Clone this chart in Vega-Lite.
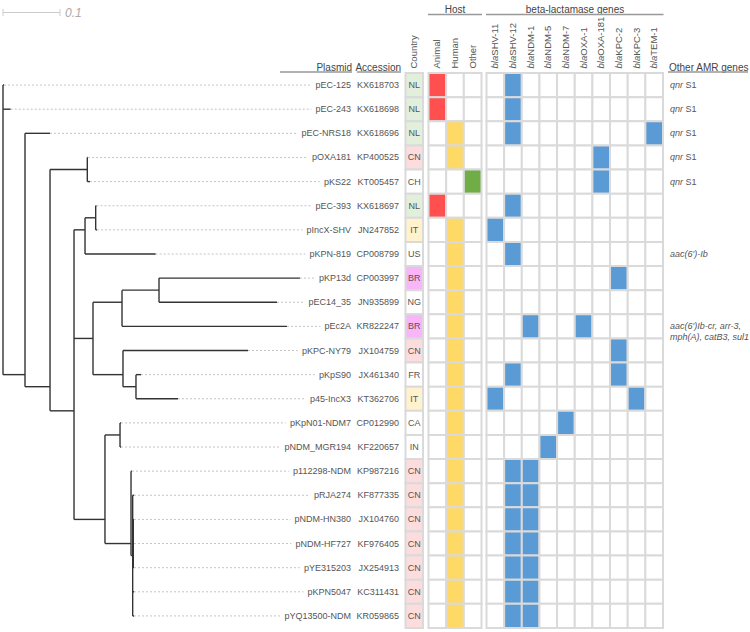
{
"$schema":"https://vega.github.io/schema/vega-lite/v6.json",
"width":750,"height":632,"padding":0,"autosize":{"type":"none"},
"background":"#ffffff",
"config":{"view":{"stroke":null},"font":"Liberation Sans","axis":{"disable":true},"legend":{"disable":true}},
"datasets":{
"plasmids":[
{"row":0,"plasmid":"pEC-125","acc":"KX618703","country":"NL","base":0,"tip":0.0018,"Animal":1,"SHV-12":1,"amr_i":"qnr","amr_p":"S1"},
{"row":1,"plasmid":"pEC-243","acc":"KX618698","country":"NL","base":0,"tip":0.0135,"Animal":1,"SHV-12":1,"amr_i":"qnr","amr_p":"S1"},
{"row":2,"plasmid":"pEC-NRS18","acc":"KX618696","country":"NL","base":0.0386,"tip":0.0825,"Human":1,"SHV-12":1,"TEM-1":1,"amr_i":"qnr","amr_p":"S1"},
{"row":3,"plasmid":"pOXA181","acc":"KP400525","country":"CN","base":0.1479,"tip":0.149,"Human":1,"OXA-181":1,"amr_i":"qnr","amr_p":"S1"},
{"row":4,"plasmid":"pKS22","acc":"KT005457","country":"CH","base":0.1479,"tip":0.1526,"Other":1,"OXA-181":1,"amr_i":"qnr","amr_p":"S1"},
{"row":5,"plasmid":"pEC-393","acc":"KX618697","country":"NL","base":0.1626,"tip":0.164,"Animal":1,"SHV-12":1},
{"row":6,"plasmid":"pIncX-SHV","acc":"JN247852","country":"IT","base":0.1626,"tip":0.165,"Human":1,"SHV-11":1},
{"row":7,"plasmid":"pKPN-819","acc":"CP008799","country":"US","base":0.1439,"tip":0.2679,"Human":1,"SHV-12":1,"amr_i":"aac(6')-Ib"},
{"row":8,"plasmid":"pKP13d","acc":"CP003997","country":"BR","base":0.2737,"tip":0.521,"Human":1,"KPC-2":1},
{"row":9,"plasmid":"pEC14_35","acc":"JN935899","country":"NG","base":0.2737,"tip":0.4807,"Human":1},
{"row":10,"plasmid":"pEc2A","acc":"KR822247","country":"BR","base":0.2088,"tip":0.4982,"Human":1,"NDM-1":1,"OXA-1":1,"amr_i":"aac(6')Ib-cr, arr-3,\nmph(A), catB3, sul1"},
{"row":11,"plasmid":"pKPC-NY79","acc":"JX104759","country":"CN","base":0.2105,"tip":0.4298,"Human":1,"KPC-2":1},
{"row":12,"plasmid":"pKpS90","acc":"JX461340","country":"FR","base":0.2333,"tip":0.2421,"Human":1,"SHV-12":1,"KPC-2":1},
{"row":13,"plasmid":"p45-IncX3","acc":"KT362706","country":"IT","base":0.2333,"tip":0.307,"Human":1,"SHV-11":1,"KPC-3":1},
{"row":14,"plasmid":"pKpN01-NDM7","acc":"CP012990","country":"CA","base":0.2053,"tip":0.207,"Human":1,"NDM-7":1},
{"row":15,"plasmid":"pNDM_MGR194","acc":"KF220657","country":"IN","base":0.2053,"tip":0.207,"Human":1,"NDM-5":1},
{"row":16,"plasmid":"p112298-NDM","acc":"KP987216","country":"CN","base":0.2246,"tip":0.2263,"Human":1,"SHV-12":1,"NDM-1":1},
{"row":17,"plasmid":"pRJA274","acc":"KF877335","country":"CN","base":0.2275,"tip":0.2298,"Human":1,"SHV-12":1,"NDM-1":1},
{"row":18,"plasmid":"pNDM-HN380","acc":"JX104760","country":"CN","base":0.2286,"tip":0.2298,"Human":1,"SHV-12":1,"NDM-1":1},
{"row":19,"plasmid":"pNDM-HF727","acc":"KF976405","country":"CN","base":0.2286,"tip":0.2298,"Human":1,"SHV-12":1,"NDM-1":1},
{"row":20,"plasmid":"pYE315203","acc":"JX254913","country":"CN","base":0.2286,"tip":0.2298,"Human":1,"SHV-12":1,"NDM-1":1},
{"row":21,"plasmid":"pKPN5047","acc":"KC311431","country":"CN","base":0.2275,"tip":0.2298,"Human":1,"SHV-12":1,"NDM-1":1},
{"row":22,"plasmid":"pYQ13500-NDM","acc":"KR059865","country":"CN","base":0.2275,"tip":0.2298,"Human":1,"SHV-12":1,"NDM-1":1}
],
"tree":[
{"x":0,"x2":0,"y":0,"y2":12},
{"x":0.0386,"x2":0.0386,"y":2,"y2":12.5},
{"x":0.0825,"x2":0.0825,"y":3.5,"y2":13.5},
{"x":0.1479,"x2":0.1479,"y":3,"y2":4},
{"x":0.1246,"x2":0.1246,"y":6,"y2":18},
{"x":0.1439,"x2":0.1439,"y":5.5,"y2":7},
{"x":0.1626,"x2":0.1626,"y":5,"y2":6},
{"x":0.1579,"x2":0.1579,"y":9,"y2":12},
{"x":0.2088,"x2":0.2088,"y":8.5,"y2":10},
{"x":0.2737,"x2":0.2737,"y":8,"y2":9},
{"x":0.2105,"x2":0.2105,"y":11,"y2":12.5},
{"x":0.2333,"x2":0.2333,"y":12,"y2":13},
{"x":0.1789,"x2":0.1789,"y":14.5,"y2":19},
{"x":0.2053,"x2":0.2053,"y":14,"y2":15},
{"x":0.2246,"x2":0.2246,"y":16,"y2":19.5},
{"x":0.2275,"x2":0.2275,"y":17,"y2":22},
{"x":0.2286,"x2":0.2286,"y":18,"y2":20},
{"x":0,"x2":0.0386,"y":12,"y2":12},
{"x":0.0386,"x2":0.0825,"y":12.5,"y2":12.5},
{"x":0.0825,"x2":0.1479,"y":3.5,"y2":3.5},
{"x":0.0825,"x2":0.1246,"y":13.5,"y2":13.5},
{"x":0.1246,"x2":0.1439,"y":6,"y2":6},
{"x":0.1439,"x2":0.1626,"y":5.5,"y2":5.5},
{"x":0.1246,"x2":0.1579,"y":10.5,"y2":10.5},
{"x":0.1579,"x2":0.2088,"y":9,"y2":9},
{"x":0.2088,"x2":0.2737,"y":8.5,"y2":8.5},
{"x":0.1579,"x2":0.2105,"y":12,"y2":12},
{"x":0.2105,"x2":0.2333,"y":12.5,"y2":12.5},
{"x":0.1246,"x2":0.1789,"y":18,"y2":18},
{"x":0.1789,"x2":0.2053,"y":14.5,"y2":14.5},
{"x":0.1789,"x2":0.2246,"y":19,"y2":19},
{"x":0.2246,"x2":0.2275,"y":19.5,"y2":19.5},
{"x":0.2275,"x2":0.2286,"y":19,"y2":19}
],
"genes":[{"g":"SHV-11"},{"g":"SHV-12"},{"g":"NDM-1"},{"g":"NDM-5"},{"g":"NDM-7"},{"g":"OXA-1"},{"g":"OXA-181"},{"g":"KPC-2"},{"g":"KPC-3"},{"g":"TEM-1"}],
"hosts":[{"h":"Animal"},{"h":"Human"},{"h":"Other"}]
},
"resolve":{"scale":{"x":"independent","y":"independent","fill":"independent"}},
"layer":[
{
"layer":[
{"data":{"name":"tree"},"mark":{"type":"rule","stroke":"#333333","strokeWidth":1.4},
 "encoding":{"x":{"field":"x","type":"quantitative","axis":null,"scale":{"domain":[0,1],"range":[3,573],"nice":false,"zero":false}},"x2":{"field":"x2"},
  "y":{"field":"y","type":"quantitative","axis":null,"scale":{"domain":[-0.5,22.5],"range":[73,628],"nice":false,"zero":false}},"y2":{"field":"y2"}}},
{"data":{"name":"plasmids"},"mark":{"type":"rule","stroke":"#333333","strokeWidth":1.4},
 "encoding":{"x":{"field":"base","type":"quantitative","axis":null},"x2":{"field":"tip"},"y":{"field":"row","type":"quantitative","axis":null}}},
{"data":{"name":"plasmids"},"mark":{"type":"rule","stroke":"#c4c4c4","strokeWidth":1,"strokeDash":[2,2]},
 "encoding":{"x":{"field":"tip","type":"quantitative","axis":null},"x2":{"datum":0.6105},"y":{"field":"row","type":"quantitative","axis":null}}},
{"data":{"name":"plasmids"},"mark":{"type":"text","align":"right","baseline":"middle","fontSize":9,"fill":"#ffffff","stroke":"#ffffff","strokeWidth":9},
 "encoding":{"x":{"datum":0.6105},"y":{"field":"row","type":"quantitative","axis":null},"text":{"field":"plasmid"}}},
{"data":{"name":"plasmids"},"mark":{"type":"text","align":"right","baseline":"middle","fontSize":9,"fill":"#555555"},
 "encoding":{"x":{"datum":0.6105},"y":{"field":"row","type":"quantitative","axis":null},"text":{"field":"plasmid"}}},
{"data":{"name":"plasmids"},"mark":{"type":"text","align":"right","baseline":"middle","fontSize":9,"fill":"#555555"},
 "encoding":{"x":{"value":399},"y":{"field":"row","type":"quantitative","axis":null},"text":{"field":"acc"}}},
{"data":{"name":"plasmids"},"transform":[{"filter":"datum.amr_i"}],"mark":{"type":"text","align":"left","baseline":"middle","fontSize":9,"fontStyle":"italic","fill":"#555555","lineBreak":"\n","lineHeight":11},
 "encoding":{"x":{"value":670},"y":{"field":"row","type":"quantitative","axis":null},"text":{"field":"amr_i"}}},
{"data":{"name":"plasmids"},"transform":[{"filter":"datum.amr_p"}],"mark":{"type":"text","align":"left","baseline":"middle","fontSize":9,"fill":"#555555","dx":15.5},
 "encoding":{"x":{"value":670},"y":{"field":"row","type":"quantitative","axis":null},"text":{"field":"amr_p"}}},
{"data":{"values":[{}]},"mark":{"type":"rule","stroke":"#cccccc","strokeWidth":1},
 "encoding":{"x":{"datum":0},"x2":{"datum":0.1},"y":{"value":12.5}}},
{"data":{"values":[{}]},"mark":{"type":"rule","stroke":"#cccccc","strokeWidth":1},
 "encoding":{"x":{"datum":0},"y":{"value":9},"y2":{"value":16}}},
{"data":{"values":[{}]},"mark":{"type":"rule","stroke":"#cccccc","strokeWidth":1},
 "encoding":{"x":{"datum":0.1},"y":{"value":9},"y2":{"value":16}}},
{"data":{"values":[{}]},"mark":{"type":"text","align":"left","baseline":"middle","fontSize":12,"fontStyle":"italic","fill":"#aaaaaa","dx":5},
 "encoding":{"x":{"datum":0.1},"y":{"value":13},"text":{"value":"0.1"}}}
]
},
{
"layer":[
{"data":{"name":"plasmids"},"mark":{"type":"rect","stroke":"#dadada","strokeWidth":2},
 "encoding":{"x":{"datum":"Country","type":"nominal","axis":null,"scale":{"domain":["Country"],"range":[405.5,423],"paddingInner":0,"paddingOuter":0}},
  "y":{"field":"plasmid","type":"nominal","axis":null,"sort":{"field":"row","op":"min"},"scale":{"range":[73,628],"paddingInner":0,"paddingOuter":0}},
  "fill":{"field":"country","type":"nominal","legend":null,"scale":{"domain":["NL","CN","IT","BR","CH","US","NG","FR","CA","IN"],"range":["#e2efda","#fcdcdc","#fff2cc","#f9b5f9","#ffffff","#ffffff","#ffffff","#ffffff","#ffffff","#ffffff"]}}}},
{"data":{"name":"plasmids"},"mark":{"type":"text","baseline":"middle","align":"center","fontSize":9,"fill":"#555555"},
 "encoding":{"x":{"datum":"Country","type":"nominal","axis":null},"y":{"field":"plasmid","type":"nominal","axis":null,"sort":{"field":"row","op":"min"}},"text":{"field":"country"}}},
{"data":{"values":[{}]},"mark":{"type":"text","angle":270,"align":"left","baseline":"middle","fontSize":9.5,"fill":"#555555"},
 "encoding":{"x":{"datum":"Country","type":"nominal","axis":null},"y":{"value":68.5},"text":{"value":"Country"}}}
]
},
{
"layer":[
{"data":{"name":"plasmids"},"transform":[{"fold":["Animal","Human","Other"],"as":["col","val"]}],"mark":{"type":"rect","stroke":"#dadada","strokeWidth":2},
 "encoding":{"x":{"field":"col","type":"nominal","axis":null,"scale":{"domain":["Animal","Human","Other"],"range":[428.5,481.5],"paddingInner":0,"paddingOuter":0}},
  "y":{"field":"plasmid","type":"nominal","axis":null,"sort":{"field":"row","op":"min"},"scale":{"range":[73,628],"paddingInner":0,"paddingOuter":0}},
  "fill":{"condition":{"test":"datum.val == 1","field":"col","type":"nominal","legend":null,"scale":{"domain":["Animal","Human","Other"],"range":["#ff4f4f","#ffd966","#70ad47"]}},"value":"#ffffff"}}},
{"data":{"name":"hosts"},"mark":{"type":"text","angle":270,"align":"left","baseline":"middle","fontSize":9.5,"fill":"#555555"},
 "encoding":{"x":{"field":"h","type":"nominal","axis":null},"y":{"value":68.5},"text":{"field":"h"}}}
]
},
{
"layer":[
{"data":{"name":"plasmids"},"transform":[{"fold":["SHV-11","SHV-12","NDM-1","NDM-5","NDM-7","OXA-1","OXA-181","KPC-2","KPC-3","TEM-1"],"as":["col","val"]}],"mark":{"type":"rect","stroke":"#dadada","strokeWidth":2},
 "encoding":{"x":{"field":"col","type":"nominal","axis":null,"scale":{"domain":["SHV-11","SHV-12","NDM-1","NDM-5","NDM-7","OXA-1","OXA-181","KPC-2","KPC-3","TEM-1"],"range":[486.5,663],"paddingInner":0,"paddingOuter":0}},
  "y":{"field":"plasmid","type":"nominal","axis":null,"sort":{"field":"row","op":"min"},"scale":{"range":[73,628],"paddingInner":0,"paddingOuter":0}},
  "fill":{"condition":{"test":"datum.val == 1","value":"#5b9bd5"},"value":"#ffffff"}}},
{"data":{"name":"genes"},"mark":{"type":"text","angle":270,"align":"left","baseline":"middle","fontSize":9.5,"fontStyle":"italic","fill":"#555555"},
 "encoding":{"x":{"field":"g","type":"nominal","axis":null},"y":{"value":68.5},"text":{"value":"bla"}}},
{"data":{"name":"genes"},"mark":{"type":"text","angle":270,"align":"left","baseline":"middle","fontSize":9.5,"fill":"#555555","dx":12.8},
 "encoding":{"x":{"field":"g","type":"nominal","axis":null},"y":{"value":68.5},"text":{"field":"g"}}}
]
},
{"data":{"values":[{}]},"mark":{"type":"text","align":"center","fontSize":10,"fill":"#444444"},
 "encoding":{"x":{"value":455},"y":{"value":10},"text":{"value":"Host"}}},
{"data":{"values":[{}]},"mark":{"type":"text","align":"center","fontSize":10,"fill":"#444444"},
 "encoding":{"x":{"value":575},"y":{"value":10},"text":{"value":"beta-lactamase genes"}}},
{"data":{"values":[{}]},"mark":{"type":"text","align":"right","fontSize":10,"fill":"#444444"},
 "encoding":{"x":{"value":352},"y":{"value":68},"text":{"value":"Plasmid"}}},
{"data":{"values":[{}]},"mark":{"type":"text","align":"right","fontSize":10,"fill":"#444444"},
 "encoding":{"x":{"value":401},"y":{"value":68},"text":{"value":"Accession"}}},
{"data":{"values":[{}]},"mark":{"type":"text","align":"left","fontSize":10,"fill":"#444444"},
 "encoding":{"x":{"value":669},"y":{"value":68},"text":{"value":"Other AMR genes"}}},
{"data":{"values":[{}]},"mark":{"type":"rule","stroke":"#999999","strokeWidth":1.5},
 "encoding":{"x":{"value":428},"x2":{"value":482},"y":{"value":14.5}}},
{"data":{"values":[{}]},"mark":{"type":"rule","stroke":"#999999","strokeWidth":1.5},
 "encoding":{"x":{"value":486},"x2":{"value":663.5},"y":{"value":14.5}}},
{"data":{"values":[{}]},"mark":{"type":"rule","stroke":"#999999","strokeWidth":1.5},
 "encoding":{"x":{"value":280},"x2":{"value":352},"y":{"value":72}}},
{"data":{"values":[{}]},"mark":{"type":"rule","stroke":"#999999","strokeWidth":1.5},
 "encoding":{"x":{"value":357},"x2":{"value":401},"y":{"value":72}}},
{"data":{"values":[{}]},"mark":{"type":"rule","stroke":"#999999","strokeWidth":1.5},
 "encoding":{"x":{"value":668},"x2":{"value":748},"y":{"value":72}}}
]
}
